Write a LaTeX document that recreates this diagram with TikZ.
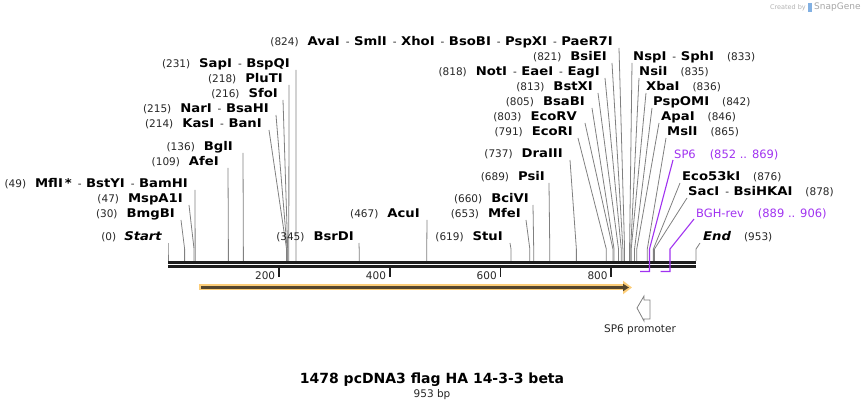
\documentclass[tikz,border=0pt]{standalone}
\usepackage{fontspec}
\setmainfont{DejaVu Sans}
\newfontface\nmfont{DejaVu Sans Bold}[FakeStretch=1.1]
\newfontface\nmitfont{DejaVu Sans Bold Oblique}[FakeStretch=1.1]
\usetikzlibrary{arrows.meta}
\definecolor{siteclr}{RGB}{128,128,128}
\definecolor{primerclr}{RGB}{160,50,240}
\definecolor{featorange}{RGB}{252,205,120}
\definecolor{featdark}{RGB}{85,70,45}
\definecolor{mapclr}{RGB}{30,30,30}
\newcommand\nm[1]{{\fontsize{12}{13}\nmfont\color{black}#1}}
\newcommand\nmit[1]{{\fontsize{12}{13}\nmitfont\color{black}#1}}
\newcommand\dsh{\hspace{6pt}-\hspace{4.5pt}}
\tikzset{
  lbl/.style={inner sep=0pt, font=\fontsize{10.5}{12}\selectfont, text=black!85},
  siteln/.style={draw=siteclr, line width=0.8pt},
  primer/.style={draw=primerclr, line width=1.1pt},
  mapln/.style={draw=mapclr, line width=2.8pt},
}
\begin{document}
\begin{tikzpicture}[x=1pt,y=-1pt]
    \useasboundingbox (0,0) rectangle (865,411);

    % Map backbone
    \coordinate (m0) at (168,262.5);
    \coordinate (m953) at (696,262.5);
    \draw[mapln] (m0) -- (m953);
    \draw[mapln] ([yshift=-4pt]m0) -- ([yshift=-4pt]m953);

    % Scale ticks
    \foreach \t in {200,400,600,800} {
        \coordinate (t\t) at ({168+0.5541*\t},268);
        \draw[mapclr, line width=1.8pt] (t\t) -- ++(0,9);
        \node[lbl, anchor=east] (tl\t) at ({164.5+0.5541*\t},275.5) {\t};
    }

    % Sites labelled on the left
    \foreach \bp/\ly/\ex/\dx/\txt in {
        0/237/162/6/{(0)\hspace{8pt}\nmit{Start}},
        30/214/175/6/{(30)\hspace{9pt}\nm{BmgBI}},
        47/199/183/6/{(47)\hspace{9pt}\nm{MspA1I}},
        49/184/188/7/{(49)\hspace{9pt}\nm{MflI\,*}\dsh\nm{BstYI}\dsh\nm{BamHI}},
        109/162/219/9/{(109)\hspace{9pt}\nm{AfeI}},
        136/147/233/10/{(136)\hspace{9pt}\nm{BglI}},
        214/124/262/7/{(214)\hspace{9pt}\nm{KasI}\dsh\nm{BanI}},
        215/109/269/7/{(215)\hspace{9pt}\nm{NarI}\dsh\nm{BsaHI}},
        216/94/278/5/{(216)\hspace{9pt}\nm{SfoI}},
        218/79/283/6/{(218)\hspace{9pt}\nm{PluTI}},
        231/64/290/6/{(231)\hspace{9pt}\nm{SapI}\dsh\nm{BspQI}},
        345/237/354/5/{(345)\hspace{9pt}\nm{BsrDI}},
        467/214/420/7/{(467)\hspace{9pt}\nm{AcuI}},
        619/237/503/7/{(619)\hspace{9pt}\nm{StuI}},
        653/214/521/5/{(653)\hspace{9pt}\nm{MfeI}},
        660/199/529/4/{(660)\hspace{9pt}\nm{BciVI}},
        689/177/545/4/{(689)\hspace{9pt}\nm{PsiI}},
        737/154/563/7/{(737)\hspace{9pt}\nm{DraIII}},
        791/132/573/5/{(791)\hspace{9pt}\nm{EcoRI}},
        803/117/577/8/{(803)\hspace{9pt}\nm{EcoRV}},
        805/102/585/7/{(805)\hspace{9pt}\nm{BsaBI}},
        813/87/593/5/{(813)\hspace{9pt}\nm{BstXI}},
        818/72/600/5/{(818)\hspace{9pt}\nm{NotI}\dsh\nm{EaeI}\dsh\nm{EagI}},
        821/57/607/5/{(821)\hspace{9pt}\nm{BsiEI}},
        824/42/613/6/{(824)\hspace{9pt}\nm{AvaI}\dsh\nm{SmlI}\dsh\nm{XhoI}\dsh\nm{BsoBI}\dsh\nm{PspXI}\dsh\nm{PaeR7I}}} {
        \coordinate (s\bp) at ({168+0.5541*\bp},261);
        \coordinate (b\bp) at ({168+0.5541*\bp},249);
        \node[lbl, anchor=base east] (L\bp) at (\ex,\ly+4) {\txt};
        \draw[siteln] ([xshift=\dx pt,yshift=-2pt]L\bp.base east) -- (b\bp) -- (s\bp);
    }

    % Sites labelled on the right
    \foreach \bp/\ly/\sx/\dx/\txt in {
        833/57/633/-1/{\nm{NspI}\dsh\nm{SphI}\hspace{13pt}(833)},
        835/72/639/0/{\nm{NsiI}\hspace{13pt}(835)},
        836/87/646/0/{\nm{XbaI}\hspace{13pt}(836)},
        842/102/653/-1/{\nm{PspOMI}\hspace{13pt}(842)},
        846/117/661/-2/{\nm{ApaI}\hspace{13pt}(846)},
        865/132/667/-1/{\nm{MslI}\hspace{13pt}(865)},
        876/177/682/-2/{\nm{Eco53kI}\hspace{13pt}(876)},
        878/192/688/-1/{\nm{SacI}\dsh\nm{BsiHKAI}\hspace{13pt}(878)},
        953/237/703/-3/{\nmit{End}\hspace{13pt}(953)}} {
        \coordinate (s\bp) at ({168+0.5541*\bp},261);
        \coordinate (b\bp) at ({168+0.5541*\bp},249);
        \node[lbl, anchor=base west] (R\bp) at (\sx,\ly+4) {\txt};
        \draw[siteln] ([xshift=\dx pt,yshift=-2pt]R\bp.base west) -- (b\bp) -- (s\bp);
    }

    % Primers
    \node[lbl, anchor=base west, text=primerclr, font=\fontsize{11.5}{13}\selectfont] (pSP6) at (674,159) {SP6\hspace{14pt}(852 .. 869)};
    \node[lbl, anchor=base west, text=primerclr, font=\fontsize{11.5}{13}\selectfont] (pBGH) at (696,218) {BGH-rev\hspace{14pt}(889 .. 906)};
    \coordinate (sp6a) at ({168+0.5541*852},271.5);
    \coordinate (sp6b) at ({168+0.5541*869},249);
    \coordinate (bgha) at ({168+0.5541*889},271.5);
    \coordinate (bghb) at ({168+0.5541*906},249);
    \draw[primer] ([xshift=-1pt,yshift=-1pt]pSP6.base west) -- (sp6b) |- (sp6a);
    \draw[primer] ([xshift=-2pt,yshift=-1pt]pBGH.base west) -- (bghb) |- (bgha);

    % Feature arrow
    \draw[featorange, line width=6pt, -{Triangle[length=9pt,width=13pt]}] (199,287.5) -- (632,287.5);
    \draw[featdark, line width=2.4pt, -{Triangle[length=6pt,width=7pt]}] (201,287.5) -- (629,287.5);

    % SP6 promoter
    \draw[siteclr, line width=0.8pt] (650,300) -- (644,300) -- (644,296) -- (637,308) -- (644,321) -- (644,319) -- (650,319) -- cycle;
    \node[lbl, anchor=center] (prom) at (640,329.5) {SP6 promoter};

    % Title
    \node[inner sep=0pt, font=\fontsize{14}{16}\selectfont\bfseries] (title) at (432,380) {1478 pcDNA3 flag HA 14-3-3 beta};
    \node[lbl, anchor=center] (len) at (432,395) {953 bp};

    % Credit
    \node[inner sep=0pt, anchor=east, text=black!30, font=\fontsize{6.5}{7}\selectfont] (cred) at (806,7.5) {Created by};
    \fill[cyan!60!blue!50] (808,3) rectangle (812,12);
    \node[inner sep=0pt, anchor=west, text=black!35, font=\fontsize{9}{10}\selectfont] (sg) at (814,7.5) {SnapGene};
\end{tikzpicture}
\end{document}
